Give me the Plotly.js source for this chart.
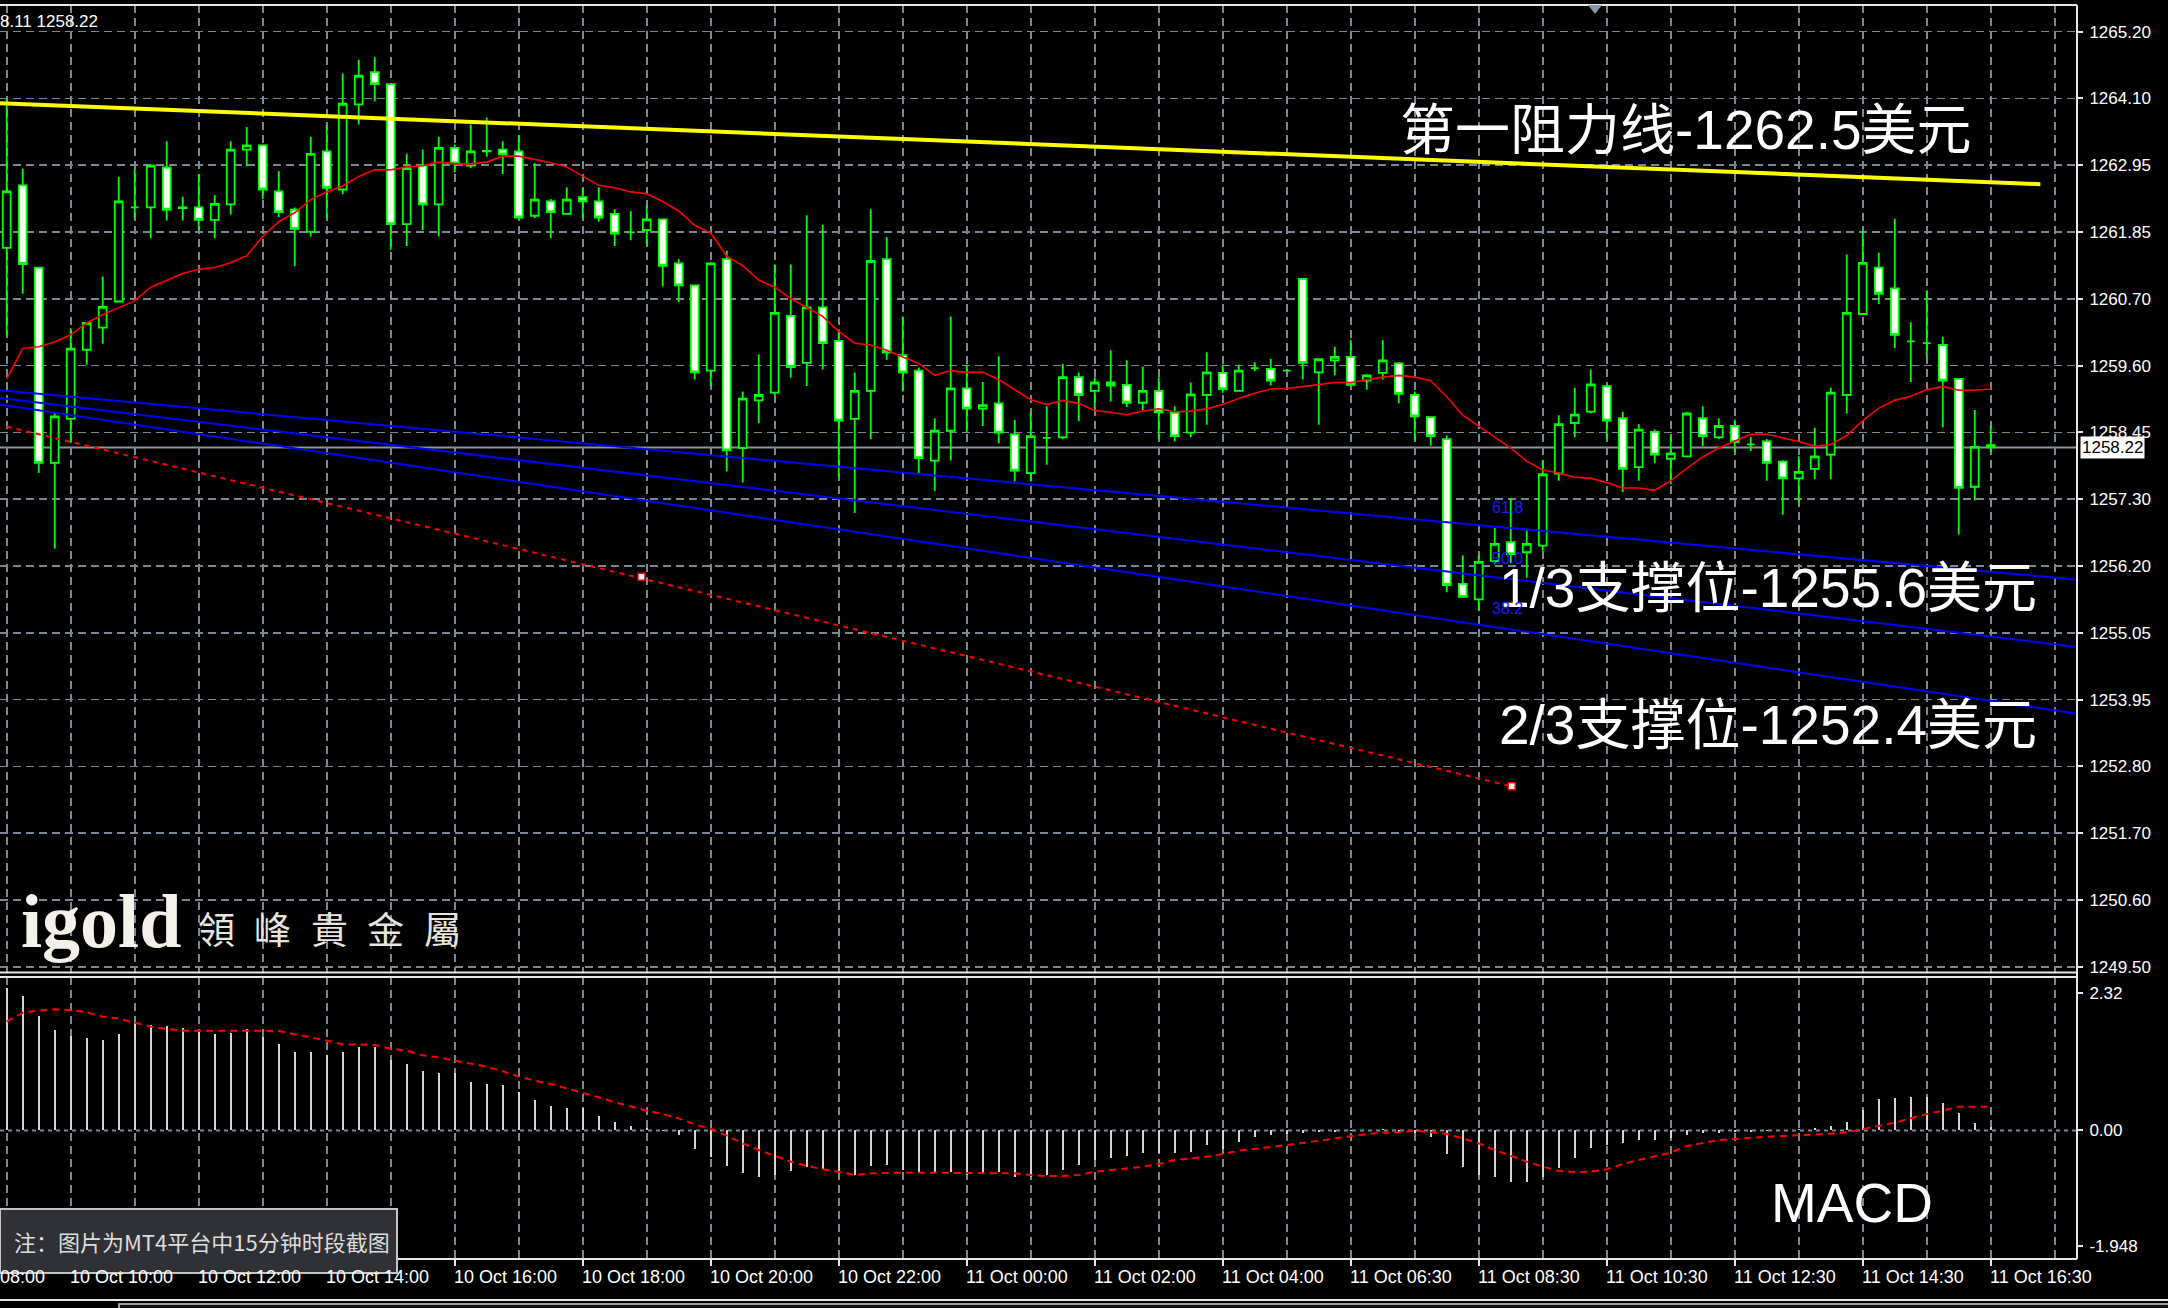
<!DOCTYPE html>
<html><head><meta charset="utf-8">
<script src="https://cdn.plot.ly/plotly-3.0.1.min.js"></script>
<style>html,body{margin:0;padding:0;background:#000;overflow:hidden}#chart{width:2168px;height:1308px}</style>
</head><body><div id="chart"></div>
<script>
// ---------------- DATA ----------------
const openP = [1261.57,1262.62,1261.24,1257.96,1258.70,1259.86,1260.23,1260.67,1262.25,1262.25,
1262.92,1262.25,1262.25,1262.04,1262.30,1263.22,1263.29,1262.52,1262.21,1261.84,
1263.19,1262.55,1263.98,1264.52,1264.32,1261.97,1262.95,1262.30,1263.25,1262.95,
1263.19,1263.22,1263.19,1262.11,1262.35,1262.14,1262.42,1262.35,1262.14,1261.83,
1261.87,1262.05,1261.31,1260.94,1259.51,1261.38,1258.21,1259.01,1259.14,1260.43,
1259.64,1260.57,1260.01,1258.70,1259.17,1261.38,1259.77,1259.51,1258.00,1258.50,
1259.21,1258.87,1258.96,1258.44,1257.79,1258.38,1258.39,1259.40,1259.17,1259.31,
1259.27,1258.97,1259.17,1258.80,1258.47,1259.10,1259.47,1259.17,1259.55,1259.54,
1259.51,1261.05,1259.48,1259.68,1259.74,1259.34,1259.47,1259.63,1259.10,1258.73,
1258.36,1255.93,1255.67,1256.31,1256.63,1256.46,1256.57,1257.78,1258.63,1258.82,
1259.25,1258.71,1257.89,1258.48,1258.03,1258.07,1258.71,1258.39,1258.58,1258.27,
1258.32,1257.98,1257.70,1257.86,1258.10,1259.10,1260.46,1261.24,1260.89,1260.00,
1259.97,1259.94,1259.37,1257.56,1258.26];
const highP = [1264.08,1262.90,1261.24,1258.82,1260.22,1260.31,1261.09,1262.76,1262.90,1262.95,
1263.36,1262.43,1262.81,1262.46,1263.36,1263.60,1263.30,1262.86,1262.25,1263.43,
1263.63,1264.50,1264.73,1264.77,1264.34,1263.15,1263.22,1263.43,1263.30,1263.64,
1263.76,1263.36,1263.46,1262.99,1262.39,1262.59,1262.57,1262.59,1262.22,1262.19,
1262.28,1262.05,1261.38,1260.94,1261.33,1261.52,1259.16,1259.78,1261.29,1261.29,
1262.12,1261.96,1260.20,1259.48,1262.22,1261.75,1260.42,1259.56,1258.71,1260.42,
1259.61,1259.32,1259.75,1258.68,1258.81,1258.91,1259.62,1259.48,1259.40,1259.85,
1259.68,1259.58,1259.40,1258.91,1259.31,1259.82,1259.61,1259.61,1259.65,1259.71,
1259.52,1261.05,1259.71,1259.91,1260.02,1259.45,1260.02,1259.65,1259.16,1258.74,
1258.42,1256.41,1256.41,1256.87,1257.37,1256.83,1258.00,1258.76,1259.22,1259.53,
1259.28,1258.82,1258.61,1258.52,1258.42,1258.82,1258.91,1258.71,1258.69,1258.39,
1258.36,1258.01,1258.07,1258.55,1259.22,1261.46,1261.86,1261.49,1262.06,1260.32,
1260.86,1260.08,1259.37,1258.85,1258.58];
const lowP = [1260.10,1260.80,1257.79,1256.52,1258.30,1259.61,1259.96,1260.67,1262.06,1261.73,
1262.03,1262.03,1261.87,1261.73,1262.13,1262.94,1262.39,1262.09,1261.26,1261.76,
1262.07,1262.47,1263.64,1264.03,1261.54,1261.60,1261.87,1261.76,1262.84,1262.91,
1263.10,1262.81,1262.07,1262.07,1261.73,1262.13,1262.07,1262.01,1261.60,1261.70,
1261.62,1260.92,1260.66,1259.36,1259.25,1257.82,1257.63,1258.63,1259.10,1259.39,
1259.25,1259.53,1257.72,1257.12,1258.36,1259.69,1259.16,1257.76,1257.49,1258.00,
1258.47,1258.58,1258.29,1257.65,1257.65,1257.93,1258.36,1258.66,1258.88,1258.99,
1258.90,1258.85,1258.36,1258.32,1258.39,1258.60,1259.14,1259.17,1259.50,1259.26,
1259.50,1259.36,1258.60,1259.43,1259.27,1259.19,1259.36,1258.96,1258.34,1258.25,
1255.79,1255.70,1255.48,1256.26,1256.28,1256.03,1256.49,1257.66,1258.39,1258.79,
1258.36,1257.47,1257.66,1257.96,1257.60,1258.06,1258.24,1258.36,1258.14,1258.16,
1257.66,1257.09,1257.29,1257.69,1257.69,1258.79,1260.46,1260.63,1259.89,1259.32,
1259.74,1258.56,1256.76,1257.33,1258.14];
const closeP = [1262.52,1261.30,1257.96,1258.74,1259.88,1260.31,1260.58,1262.35,1262.25,1262.95,
1262.21,1262.24,1262.04,1262.31,1263.22,1263.29,1262.55,1262.17,1261.89,1263.15,
1262.58,1263.99,1264.46,1264.32,1261.97,1262.91,1262.30,1263.25,1262.99,1263.19,
1263.20,1263.14,1262.08,1262.38,1262.17,1262.38,1262.35,1262.08,1261.81,1261.83,
1262.05,1261.27,1260.94,1259.48,1261.31,1258.17,1259.04,1259.10,1260.48,1259.57,
1260.57,1259.97,1258.67,1259.17,1261.35,1259.81,1259.48,1258.04,1258.50,1259.21,
1258.87,1258.93,1258.47,1257.83,1258.41,1258.38,1259.40,1259.10,1259.31,1259.26,
1258.97,1259.17,1258.81,1258.41,1259.11,1259.48,1259.20,1259.51,1259.55,1259.34,
1259.51,1259.64,1259.70,1259.74,1259.27,1259.43,1259.68,1259.12,1258.74,1258.41,
1255.91,1255.71,1256.30,1256.60,1256.43,1256.60,1257.77,1258.61,1258.77,1259.28,
1258.67,1257.86,1258.52,1258.10,1258.12,1258.79,1258.41,1258.58,1258.31,1258.27,
1257.96,1257.70,1257.81,1258.07,1259.14,1260.48,1261.32,1260.80,1260.11,1260.00,
1259.97,1259.34,1257.54,1258.23,1258.22];
const movingAvg = [1259.37,1259.88,1259.91,1259.99,1260.11,1260.31,1260.45,1260.57,1260.68,1260.91,
1261.03,1261.14,1261.21,1261.24,1261.32,1261.44,1261.76,1262.01,1262.16,1262.38,
1262.51,1262.61,1262.77,1262.88,1262.88,1262.93,1262.95,1263.01,1262.98,1262.98,
1263.01,1263.11,1263.11,1263.06,1263.00,1262.93,1262.77,1262.62,1262.58,1262.51,
1262.48,1262.35,1262.19,1261.95,1261.82,1261.43,1261.27,1261.03,1260.91,1260.72,
1260.57,1260.42,1260.17,1259.97,1259.94,1259.85,1259.74,1259.63,1259.43,1259.51,
1259.48,1259.48,1259.36,1259.19,1259.02,1258.94,1259.01,1258.96,1258.84,1258.81,
1258.77,1258.83,1258.87,1258.82,1258.83,1258.87,1258.94,1259.04,1259.13,1259.20,
1259.21,1259.24,1259.27,1259.31,1259.31,1259.36,1259.40,1259.43,1259.40,1259.34,
1259.07,1258.76,1258.58,1258.39,1258.21,1257.99,1257.84,1257.79,1257.72,1257.70,
1257.63,1257.54,1257.54,1257.50,1257.66,1257.87,1258.06,1258.21,1258.33,1258.44,
1258.44,1258.38,1258.32,1258.24,1258.27,1258.42,1258.67,1258.88,1259.01,1259.08,
1259.19,1259.24,1259.18,1259.18,1259.20];
const macdHist = [2.395,2.266,1.929,1.693,1.592,1.553,1.525,1.626,1.817,1.778,
1.761,1.721,1.665,1.626,1.637,1.705,1.581,1.457,1.317,1.328,
1.272,1.328,1.401,1.401,1.188,1.120,1.002,0.963,0.974,0.823,
0.784,0.767,0.650,0.514,0.418,0.385,0.373,0.244,0.138,0.081,
0.037,-0.010,-0.076,-0.317,-0.440,-0.593,-0.722,-0.789,-0.750,-0.677,
-0.609,-0.654,-0.677,-0.750,-0.598,-0.581,-0.666,-0.705,-0.705,-0.705,
-0.750,-0.722,-0.694,-0.789,-0.778,-0.750,-0.666,-0.581,-0.497,-0.469,
-0.430,-0.385,-0.385,-0.385,-0.357,-0.244,-0.317,-0.188,-0.115,-0.076,
-0.059,-0.040,-0.030,-0.020,-0.010,0.010,0.020,-0.020,-0.050,-0.104,
-0.396,-0.621,-0.750,-0.789,-0.862,-0.862,-0.778,-0.637,-0.469,-0.300,
-0.244,-0.216,-0.160,-0.160,-0.132,-0.076,-0.048,-0.037,-0.030,-0.020,
-0.010,0.000,0.020,0.050,0.080,0.149,0.345,0.525,0.542,0.570,
0.570,0.469,0.289,0.132,0.065];
const macdSignal = [1.834,1.985,2.019,2.042,2.030,1.991,1.918,1.884,1.817,1.750,
1.710,1.682,1.682,1.682,1.682,1.693,1.682,1.676,1.626,1.570,
1.514,1.452,1.441,1.441,1.379,1.345,1.266,1.233,1.177,1.132,
1.076,0.997,0.907,0.840,0.784,0.710,0.637,0.559,0.475,0.402,
0.334,0.278,0.205,0.104,0.025,-0.087,-0.216,-0.329,-0.430,-0.525,
-0.593,-0.654,-0.694,-0.750,-0.722,-0.710,-0.710,-0.710,-0.710,-0.710,
-0.710,-0.710,-0.722,-0.722,-0.750,-0.767,-0.767,-0.750,-0.694,-0.666,
-0.637,-0.609,-0.564,-0.497,-0.469,-0.441,-0.396,-0.340,-0.312,-0.284,
-0.244,-0.211,-0.171,-0.132,-0.093,-0.059,-0.037,-0.031,-0.003,-0.031,
-0.059,-0.132,-0.216,-0.329,-0.430,-0.525,-0.609,-0.677,-0.699,-0.694,
-0.654,-0.564,-0.497,-0.441,-0.374,-0.261,-0.205,-0.160,-0.143,-0.121,
-0.104,-0.093,-0.081,-0.070,-0.053,-0.031,0.020,0.081,0.132,0.205,
0.278,0.334,0.402,0.402,0.402];

const priceLabels = ["1265.20","1264.10","1262.95","1261.85","1260.70","1259.60","1258.45","1257.30",
"1256.20","1255.05","1253.95","1252.80","1251.70","1250.60","1249.50"];
const macdLabelVals = [2.32, 0, -1.948];
const macdLabelText = ["2.32", "0.00", "-1.948"];
const timeLabelBars = [-4,4,12,20,28,36,44,52,60,68,76,84,92,100,108,116,124];
const timeLabels = ["10 Oct 08:00","10 Oct 10:00","10 Oct 12:00","10 Oct 14:00","10 Oct 16:00",
"10 Oct 18:00","10 Oct 20:00","10 Oct 22:00","11 Oct 00:00","11 Oct 02:00","11 Oct 04:00",
"11 Oct 06:30","11 Oct 08:30","11 Oct 10:30","11 Oct 12:30","11 Oct 14:30","11 Oct 16:30"];

const resistBars = [-0.42, 127.1];
const resistPrices = [1264.00, 1262.64];
const channelBars = [-0.42, 129.4];
const channelTop = [1259.18, 1256.00];
const channelMid = [1259.05, 1254.87];
const channelLow = [1258.94, 1253.75];
const trendBars = [0, 94.06];
const trendPrices = [1258.57, 1252.53];
const trendAnchorBars = [39.67, 94.06];
const trendAnchorPrices = [1256.05, 1252.53];
const fibText = ["61.8", "50.0", "38.2"];
const fibPrices = [1257.21, 1256.36, 1255.52];
const fibBar = 92.7;
const currentPrice = 1258.22;
const headerText = "8.11 1258.22";

// ---------------- GEOMETRY ----------------
const W = 2168, H = 1308, PL = 0, PR = 2077, PT = 5, PB = 1259;
const XR = [-0.419, 129.39];
const fx = p => (p - PL) / (PR - PL);
const fy = p => (PB - p) / (PB - PT);
const barPaper = k => (k - XR[0]) / (XR[1] - XR[0]);
const bars = openP.map((_, i) => i);

const GRID = '#7b8794', GDASH = '8px,5px', LIME = '#00ff00';
const FONT = 'Liberation Sans, Arial, Noto Sans CJK SC, sans-serif';
const CJK = 'Liberation Sans, Noto Sans CJK SC, sans-serif';

const traces = [
  {type:'candlestick', x:bars, open:openP, high:highP, low:lowP, close:closeP,
   xaxis:'x', yaxis:'y', whiskerwidth:0, hoverinfo:'skip',
   increasing:{line:{color:LIME, width:1.8}, fillcolor:'#000000'},
   decreasing:{line:{color:LIME, width:1.8}, fillcolor:'#ffffff'}},
  {type:'scatter', mode:'lines', x:bars, y:movingAvg, line:{color:'#ff0000', width:1.6}, hoverinfo:'skip'},
  {type:'scatter', mode:'lines', x:resistBars, y:resistPrices, line:{color:'#ffff00', width:4}, hoverinfo:'skip'},
  {type:'scatter', mode:'lines', x:channelBars, y:channelTop, line:{color:'#0000ff', width:2}, hoverinfo:'skip'},
  {type:'scatter', mode:'lines', x:channelBars, y:channelMid, line:{color:'#0000ff', width:2}, hoverinfo:'skip'},
  {type:'scatter', mode:'lines', x:channelBars, y:channelLow, line:{color:'#0000ff', width:2}, hoverinfo:'skip'},
  {type:'scatter', mode:'lines', x:trendBars, y:trendPrices, line:{color:'#ff0000', width:2, dash:'5px,5px'}, hoverinfo:'skip'},
  {type:'scatter', mode:'markers', x:trendAnchorBars, y:trendAnchorPrices,
   marker:{symbol:'square', size:7, color:'#ffffff', line:{color:'#ff0000', width:1.5}}, hoverinfo:'skip'},
  {type:'bar', x:bars, y:macdHist, xaxis:'x', yaxis:'y2', width:0.13,
   marker:{color:'#d4d4d4', line:{width:0}}, hoverinfo:'skip'},
  {type:'scatter', mode:'lines', x:bars, y:macdSignal, xaxis:'x', yaxis:'y2',
   line:{color:'#ff0000', width:2, dash:'7px,5px'}, hoverinfo:'skip'}
];

const priceTop = 1265.20, priceBot = 1249.50;
const priceTickVals = priceLabels.map((_, i) => priceTop - i * (priceTop - priceBot) / (priceLabels.length - 1));

const annotations = [];
timeLabels.forEach((t, i) => {
  annotations.push({xref:'paper', yref:'paper', x: barPaper(timeLabelBars[i]) - 3 / (PR - PL), y: fy(1277),
    xanchor:'left', yanchor:'middle', text:t, showarrow:false, font:{family:FONT, size:18, color:'#ffffff'}});
});
const bigText = (txt, left, cy) => ({xref:'paper', yref:'paper', x:fx(left), y:fy(cy), xanchor:'left', yanchor:'middle',
  text:txt, showarrow:false, font:{family:CJK, size:55, color:'#ffffff'}});
annotations.push(bigText('第一阻力线-1262.5美元', 1398, 130));
annotations.push(bigText('1/3支撑位-1255.6美元', 1497, 588));
annotations.push(bigText('2/3支撑位-1252.4美元', 1497, 725));
annotations.push({xref:'paper', yref:'paper', x:fx(1769), y:fy(1203), xanchor:'left', yanchor:'middle',
  text:'MACD', showarrow:false, font:{family:FONT, size:55, color:'#ffffff'}});
fibText.forEach((t, i) => annotations.push({xref:'x', yref:'y', x:fibBar, y:fibPrices[i], xanchor:'left', yanchor:'middle',
  text:t, showarrow:false, font:{family:FONT, size:16, color:'#1a1aff'}}));
annotations.push({xref:'paper', yref:'y', x:1, xshift:3, y:currentPrice, xanchor:'left', yanchor:'middle',
  text:currentPrice.toFixed(2), showarrow:false, bgcolor:'#ffffff', borderpad:1,
  font:{family:FONT, size:17, color:'#000000'}});
annotations.push({xref:'paper', yref:'paper', x:fx(-2), y:fy(21), xanchor:'left', yanchor:'middle',
  text:headerText, showarrow:false, font:{family:FONT, size:17, color:'#ffffff'}});
// logo
annotations.push({xref:'paper', yref:'paper', x:fx(19), y:fy(921), xanchor:'left', yanchor:'middle',
  text:'<b>igold</b>', showarrow:false, font:{family:'Liberation Serif, DejaVu Serif, serif', size:76, color:'#f4f0ea'}});
const logoChars = '領峰貴金屬';
[...logoChars].forEach((ch, i) => annotations.push({xref:'paper', yref:'paper', x:fx(216 + i * 56.5), y:fy(928),
  xanchor:'center', yanchor:'middle', text:ch, showarrow:false,
  font:{family:'Noto Sans CJK TC, sans-serif', size:37, color:'#e8e4de'}}));
// note
annotations.push({xref:'paper', yref:'paper', x:fx(12), y:fy(1241), xanchor:'left', yanchor:'middle',
  text:'注：图片为MT4平台中15分钟时段截图', showarrow:false,
  font:{family:'Noto Sans CJK SC, sans-serif', size:22, color:'#dcdcdc'}});

const hl = (y, color, w) => ({type:'line', xref:'paper', yref:'paper', x0:0, x1:1, y0:y, y1:y, line:{color:color, width:w}, layer:'above'});
const shapes = [
  {type:'line', xref:'paper', yref:'y', x0:0, x1:1, y0:currentPrice, y1:currentPrice, line:{color:'#8c949c', width:2}, layer:'below'},
  {type:'line', xref:'paper', yref:'y2', x0:0, x1:1, y0:0, y1:0, line:{color:GRID, width:2, dash:'4px,4px'}, layer:'below'},
  hl(1, '#e6e6e6', 2), hl(fy(972.5), '#e6e6e6', 2), hl(fy(977), '#e6e6e6', 2), hl(0, '#e6e6e6', 2),
  {type:'line', xref:'paper', yref:'paper', x0:1, x1:1, y0:0, y1:1, line:{color:'#e6e6e6', width:2}, layer:'above'},
  {type:'path', xref:'paper', yref:'paper', layer:'above',
   path:`M ${fx(1588)},${fy(5)} L ${fx(1602)},${fy(5)} L ${fx(1595)},${fy(14)} Z`, fillcolor:'#8a96a3', line:{width:0}},
  {type:'rect', xref:'paper', yref:'paper', layer:'above', x0:fx(0), x1:fx(397), y0:fy(1273), y1:fy(1209),
   fillcolor:'#2f3136', line:{color:'#c4c4c4', width:2}},
  {type:'line', xref:'paper', yref:'paper', x0:fx(0), x1:fx(2168), y0:fy(1300), y1:fy(1300), line:{color:'#e6e6e6', width:2}, layer:'above'},
  {type:'rect', xref:'paper', yref:'paper', layer:'above', x0:fx(119), x1:fx(2170), y0:fy(1310), y1:fy(1304),
   fillcolor:'#101010', line:{color:'#d0d0d0', width:1.5}}
];

const layout = {
  width:W, height:H, paper_bgcolor:'#000000', plot_bgcolor:'#000000', showlegend:false,
  margin:{l:PL, r:W - PR, t:PT, b:H - PB, pad:0},
  font:{family:FONT, color:'#ffffff'},
  bargap:0,
  xaxis:{domain:[0,1], anchor:'y2', range:XR, fixedrange:true, rangeslider:{visible:false},
    tickmode:'array', tickvals:timeLabelBars.filter(b => b >= XR[0]), showticklabels:false,
    ticks:'outside', ticklen:6, tickwidth:2, tickcolor:'#e6e6e6',
    showgrid:true, gridcolor:GRID, griddash:GDASH, gridwidth:1.6, zeroline:false, showline:false,
    minor:{tickmode:'linear', tick0:0, dtick:4, showgrid:true, gridcolor:GRID, griddash:GDASH, gridwidth:1.6, ticks:''}},
  yaxis:{domain:[fy(973), 1], anchor:'x', side:'right', range:[1249.396, 1265.648], fixedrange:true,
    tickmode:'array', tickvals:priceTickVals, ticktext:priceLabels,
    ticks:'outside', ticklen:5, tickwidth:2, tickcolor:'#e6e6e6', ticklabelstandoff:3,
    tickfont:{family:FONT, size:17, color:'#ffffff'},
    showgrid:true, gridcolor:GRID, griddash:GDASH, gridwidth:1.6, zeroline:false, showline:false},
  yaxis2:{domain:[0, fy(977)], anchor:'x', side:'right', range:[-2.165, 2.586], fixedrange:true,
    tickmode:'array', tickvals:macdLabelVals, ticktext:macdLabelText,
    ticks:'outside', ticklen:5, tickwidth:2, tickcolor:'#e6e6e6', ticklabelstandoff:3,
    tickfont:{family:FONT, size:17, color:'#ffffff'},
    showgrid:false, zeroline:false, showline:false},
  shapes:shapes, annotations:annotations
};

Plotly.newPlot('chart', traces, layout, {staticPlot:true, displayModeBar:false});
</script></body></html>
